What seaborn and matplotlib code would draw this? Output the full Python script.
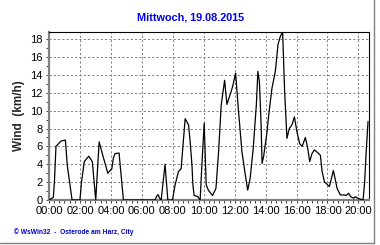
import matplotlib
matplotlib.use("Agg")
import matplotlib.pyplot as plt
import seaborn as sns
import pandas as pd
from matplotlib.ticker import MultipleLocator
from matplotlib.lines import Line2D

title = "Mittwoch, 19.08.2015"
ylabel = "Wind  (km/h)"
footer = "\u00a9 WsWin32  -  Osterode am Harz, City"

hours = [0.0, 0.28, 0.35, 0.45, 0.78, 1.06, 1.18, 1.49, 2.0, 2.1, 2.28, 2.57, 2.8, 3.02,
         3.24, 3.5, 3.8, 4.06, 4.16, 4.27, 4.53, 4.6, 4.81, 6.86, 6.95, 7.05, 7.15, 7.25,
         7.5, 7.68, 7.98, 8.15, 8.37, 8.54, 8.8, 9.02, 9.12, 9.24, 9.3, 9.38, 9.6, 9.77,
         9.88, 10.03, 10.16, 10.3, 10.57, 10.79, 10.96, 11.13, 11.35, 11.5, 11.67, 11.87,
         12.06, 12.25, 12.47, 12.69, 12.84, 13.0, 13.2, 13.4, 13.5, 13.6, 13.71, 13.77,
         13.87, 14.09, 14.2, 14.41, 14.63, 14.8, 14.95, 15.1, 15.23, 15.38, 15.53, 15.7,
         15.86, 16.03, 16.2, 16.36, 16.57, 16.72, 16.85, 17.0, 17.15, 17.37, 17.54, 17.65,
         17.8, 17.97, 18.12, 18.23, 18.38, 18.51, 18.62, 18.83, 19.1, 19.2, 19.37, 19.5,
         19.7, 19.8, 19.95, 20.13, 20.3, 20.4, 20.5, 20.62]
wind = [0.0, 0.3, 2.0, 6.0, 6.6, 6.7, 3.9, 0.0, 0.0, 2.0, 4.3, 4.9, 4.3, 0.0,
        6.5, 4.85, 3.0, 3.5, 4.7, 5.2, 5.25, 3.9, 0.0, 0.0, 0.4, 0.6, 0.2, 0.0,
        4.0, 0.0, 0.0, 1.7, 3.2, 3.5, 9.1, 8.4, 6.6, 3.9, 1.7, 0.5, 0.4, 0.0,
        3.9, 8.6, 1.7, 1.1, 0.5, 1.3, 5.4, 10.6, 13.4, 10.7, 11.6, 12.7,
        14.2, 9.9, 5.4, 2.8, 1.1, 2.4, 5.8, 10.6, 14.4, 13.2, 8.4, 4.1,
        4.85, 7.6, 9.5, 12.5, 14.4, 17.4, 18.3, 18.8, 12.1, 6.9, 8.0, 8.4,
        9.3, 7.6, 6.3, 6.0, 7.0, 5.8, 4.3, 5.2, 5.6, 5.3, 5.0, 3.2,
        2.05, 1.76, 1.5, 2.24, 3.3, 2.24, 1.3, 0.56, 0.56, 0.5, 0.75, 0.37,
        0.2, 0.37, 0.2, 0.1, 0.0, 2.0, 5.4, 8.8]
xtick_hours = [0, 2, 4, 6, 8, 10, 12, 14, 16, 18, 20]
xtick_labels = ["00:00", "02:00", "04:00", "06:00", "08:00", "10:00",
                "12:00", "14:00", "16:00", "18:00", "20:00"]
yticks = [0, 2, 4, 6, 8, 10, 12, 14, 16, 18]

df = pd.DataFrame({"h": hours, "w": wind})

sns.set_theme(style="white")
plt.rcParams['font.family'] = ['Liberation Sans', 'DejaVu Sans']

fig = plt.figure(figsize=(3.8, 2.45), dpi=100)
fig.patch.set_facecolor("white")
ax = fig.add_axes([49/380, 1-200/245, (368.5-49)/380, (200-32)/245])
ax.set_facecolor("white")

sns.lineplot(data=df, x="h", y="w", sort=False, estimator=None,
             color="black", linewidth=0.9, ax=ax, zorder=3)

ax.set_xlim(0, 20.65)
ax.set_ylim(0, 18.8)
ax.set_xticks(xtick_hours)
ax.set_xticklabels(xtick_labels)
ax.set_yticks(yticks)
ax.xaxis.set_minor_locator(MultipleLocator(1/3))
ax.yaxis.set_minor_locator(MultipleLocator(1))
ax.tick_params(axis="both", which="both", direction="out", length=2.5, width=0.7,
               color="#404040", labelsize=8, labelcolor="black", pad=2)
ax.tick_params(axis="x", which="both", bottom=True)
ax.tick_params(axis="y", which="both", left=True)
ax.grid(True, which="major", color="#808080", linestyle=(0, (2.2, 2.2)), linewidth=0.7)
ax.set_axisbelow(True)
ax.set_xlabel("")
ax.set_ylabel(ylabel, fontsize=8.5, fontweight="bold", labelpad=4)

for s in ["top", "right"]:
    ax.spines[s].set_color("black")
    ax.spines[s].set_linewidth(0.8)
for s in ["left", "bottom"]:
    ax.spines[s].set_color("#808080")
    ax.spines[s].set_linewidth(1.6)

fig.text(191/380, 1-17/245, title, ha="center", va="center", color="#0000EE",
         fontsize=7.8, fontweight="bold")
fig.text(14/380, 1-232/245, footer, ha="left", va="center", color="#0000CC",
         fontsize=4.8, fontweight="bold")

fig.add_artist(Line2D([373.5/380, 373.5/380], [1-242.5/245, 1.0], transform=fig.transFigure,
                      color="#808080", linewidth=1.0))
fig.add_artist(Line2D([0, 373.5/380], [1-242.5/245, 1-242.5/245], transform=fig.transFigure,
                      color="#808080", linewidth=1.0))

fig.savefig("out.png", dpi=100, facecolor="white")
